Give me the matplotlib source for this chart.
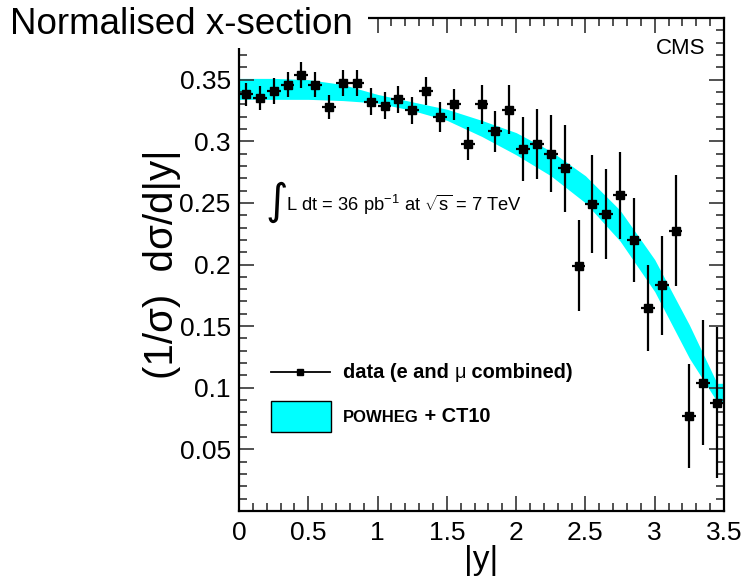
import matplotlib
matplotlib.use("Agg")
import matplotlib.pyplot as plt
from matplotlib.patches import Rectangle
from matplotlib.lines import Line2D
from matplotlib.ticker import MultipleLocator, FixedLocator

plt.rcParams['font.family'] = ['Liberation Sans', 'DejaVu Sans']
plt.rcParams['mathtext.fontset'] = 'custom'
plt.rcParams['mathtext.rm'] = 'Liberation Sans'
plt.rcParams['mathtext.it'] = 'Liberation Sans'

# ---- data ----
y_centers = [0.05, 0.15, 0.25, 0.35, 0.45, 0.55, 0.65, 0.75, 0.85, 0.95,
             1.05, 1.15, 1.25, 1.35, 1.45, 1.55, 1.65, 1.75, 1.85, 1.95,
             2.05, 2.15, 2.25, 2.35, 2.45, 2.55, 2.65, 2.75, 2.85, 2.95,
             3.05, 3.15, 3.25, 3.35, 3.45]
data_vals = [0.338, 0.335, 0.341, 0.346, 0.354, 0.346, 0.328, 0.347, 0.347, 0.332,
             0.329, 0.334, 0.325, 0.341, 0.3195, 0.330, 0.298, 0.330, 0.308, 0.3255,
             0.2936, 0.298, 0.290, 0.278, 0.199, 0.249, 0.241, 0.256, 0.220, 0.1645,
             0.183, 0.2275, 0.077, 0.104, 0.088]
data_errs = [0.0095, 0.010, 0.0105, 0.0105, 0.0105, 0.0105, 0.0098, 0.0105, 0.0105, 0.0108,
             0.0107, 0.0112, 0.011, 0.0115, 0.0122, 0.0125, 0.0135, 0.016, 0.0168, 0.020,
             0.026, 0.0284, 0.031, 0.035, 0.037, 0.0396, 0.0367, 0.035, 0.034, 0.035,
             0.040, 0.045, 0.0425, 0.0507, 0.0615]
bin_halfwidth = 0.05

band_x = [0.0, 0.25, 0.5, 0.75, 1.0, 1.25, 1.5, 1.75, 2.0, 2.25, 2.5, 2.75, 3.0, 3.25, 3.45, 3.5]
band_hi = [0.351, 0.351, 0.350, 0.346, 0.338, 0.332, 0.326, 0.317, 0.307, 0.292, 0.272, 0.244,
           0.204, 0.151, 0.1036, 0.1036]
band_lo = [0.334, 0.334, 0.334, 0.333, 0.331, 0.325, 0.317, 0.304, 0.289, 0.272, 0.250, 0.219,
           0.178, 0.124, 0.0887, 0.0887]

xticks = [0, 0.5, 1, 1.5, 2, 2.5, 3, 3.5]
xtick_labels = ['0', '0.5', '1', '1.5', '2', '2.5', '3', '3.5']
yticks = [0.05, 0.1, 0.15, 0.2, 0.25, 0.3, 0.35]
ytick_labels = ['0.05', '0.1', '0.15', '0.2', '0.25', '0.3', '0.35']

W, H = 744, 581
def fx(px):
    return px / W
def fy(py):
    return 1 - py / H

fig = plt.figure(figsize=(W / 100, H / 100), dpi=100)
ax = fig.add_axes([fx(239), fy(511), fx(724) - fx(239), fy(18) - fy(511)])

ax.fill_between(band_x, band_lo, band_hi, color='#00ffff', linewidth=0, zorder=1)
ax.errorbar(y_centers, data_vals, yerr=data_errs, xerr=bin_halfwidth, fmt='s', color='black',
            ms=5.2, elinewidth=1.6, capsize=0, zorder=3)

ax.set_xlim(0, 3.5)
ax.set_ylim(0, 0.4)
ax.xaxis.set_major_locator(FixedLocator(xticks))
ax.set_xticklabels(xtick_labels)
ax.xaxis.set_minor_locator(MultipleLocator(0.1))
ax.yaxis.set_major_locator(FixedLocator(yticks))
ax.set_yticklabels(ytick_labels)
ax.yaxis.set_minor_locator(MultipleLocator(0.01))
ax.tick_params(which='both', direction='in', top=True, right=True, width=1.2, color='#333333')
ax.tick_params(which='major', length=11, labelsize=19)
ax.tick_params(axis='x', which='major', pad=7)
ax.tick_params(axis='y', which='major', pad=6)
ax.tick_params(which='minor', length=6)
for s in ax.spines.values():
    s.set_linewidth(1.6)

fig.text(fx(481), fy(560), '|y|', fontsize=24, ha='center', va='center')
fig.text(fx(162), fy(264), '(1/σ)  dσ/d|y|', fontsize=29, ha='center', va='center', rotation=90)

# title with white background covering frame corner
fig.add_artist(Rectangle((0, fy(48)), fx(368), 1 - fy(48), transform=fig.transFigure,
                         facecolor='white', edgecolor='none', zorder=5))
fig.text(fx(10), fy(24), 'Normalised x-section', fontsize=26.5, ha='left', va='center', zorder=6)

fig.text(fx(705), fy(48), 'CMS', fontsize=16, ha='right', va='center')

# luminosity
fig.text(fx(265), fy(202), '∫', fontsize=31, family='DejaVu Sans', ha='left', va='center')
fig.text(fx(286), fy(205), r'L dt = 36 pb$^{-1}$ at $\sqrt{s}$ = 7 TeV', fontsize=13.2,
         ha='left', va='center')

# legend
fig.add_artist(Line2D([fx(271), fx(330)], [fy(372), fy(372)], color='black', lw=1.3,
                      transform=fig.transFigure))
fig.add_artist(Line2D([fx(300)], [fy(372)], marker='s', ms=5, color='black',
                      transform=fig.transFigure))
t1 = fig.text(fx(343), fy(372), 'data (e and ', fontsize=14.4, fontweight='bold', ha='left', va='center')
fig.canvas.draw()
r = fig.canvas.get_renderer()
bb = t1.get_window_extent(r)
t2 = fig.text(bb.x1 / W, fy(372), 'μ', fontsize=14.4, ha='left', va='center')
bb2 = t2.get_window_extent(r)
fig.text(bb2.x1 / W, fy(372), ' combined)', fontsize=14.4, fontweight='bold', ha='left', va='center')

fig.add_artist(Rectangle((fx(271), fy(432)), fx(331) - fx(271), fy(401) - fy(432),
                         transform=fig.transFigure, facecolor='#00ffff', edgecolor='black', lw=1))
t3 = fig.text(fx(343), fy(417), 'POWHEG', fontsize=12, fontweight='bold', ha='left', va='center')
bb3 = t3.get_window_extent(r)
fig.text(bb3.x1 / W, fy(416), ' + CT10', fontsize=14.4, fontweight='bold', ha='left', va='center')

fig.savefig('out.png', dpi=100)
